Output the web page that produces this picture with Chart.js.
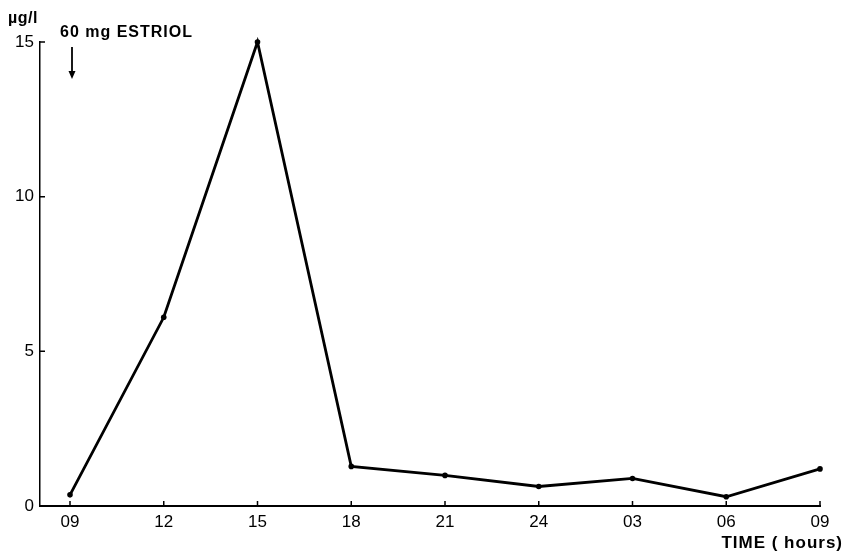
<!DOCTYPE html>
<html>
<head>
<meta charset="utf-8">
<script src="https://cdn.jsdelivr.net/npm/chart.js@4.4.1/dist/chart.umd.min.js"></script>
<style>
  html, body { margin: 0; padding: 0; background: #fff; }
  #wrap { width: 844px; height: 554px; position: relative; }
</style>
</head>
<body>
<div id="wrap"><canvas id="c" width="844" height="554"></canvas></div>
<script>
// Clock times of the samples (every 3 hours, next morning wraps to 03/06/09)
const timeLabels = ['09', '12', '15', '18', '21', '24', '03', '06', '09'];
// Plasma estriol concentration, µg/l
const estriol = [0.36, 6.1, 15.0, 1.28, 0.99, 0.63, 0.89, 0.30, 1.20];
const yTicks = [0, 5, 10, 15];

const points = estriol.map((v, i) => ({ x: i, y: v }));
const FONT = '"Liberation Sans", Arial, Helvetica, sans-serif';

// Inward tick marks, axis captions and the dose arrow
const decor = {
  id: 'decor',
  afterDraw(chart) {
    const ctx = chart.ctx;
    const xs = chart.scales.x, ys = chart.scales.y;
    const x0 = xs.left, y0 = ys.bottom;
    ctx.save();
    ctx.strokeStyle = '#000';
    ctx.lineWidth = 1.5;
    ctx.beginPath();
    timeLabels.forEach((_, i) => {
      const px = xs.getPixelForValue(i);
      ctx.moveTo(px, y0); ctx.lineTo(px, y0 - 5);
    });
    yTicks.forEach(v => {
      const py = ys.getPixelForValue(v);
      ctx.moveTo(x0, py); ctx.lineTo(x0 + 5, py);
    });
    ctx.stroke();

    ctx.fillStyle = '#000';
    ctx.textBaseline = 'alphabetic';
    ctx.textAlign = 'left';
    ctx.font = 'bold 16px ' + FONT;
    ctx.letterSpacing = '0.5px';
    ctx.fillText('µg/l', 8, 23);
    ctx.font = 'bold 16px ' + FONT;
    ctx.letterSpacing = '1px';
    ctx.fillText('60 mg ESTRIOL', 60, 37);
    ctx.font = 'bold 17px ' + FONT;
    ctx.letterSpacing = '1px';
    ctx.textAlign = 'right';
    ctx.fillText('TIME ( hours)', 843, 548);
    ctx.letterSpacing = '0px';

    // dose given at the first sample time
    const ax = xs.getPixelForValue(0) + 2;
    ctx.lineWidth = 1.8;
    ctx.beginPath();
    ctx.moveTo(ax, 47); ctx.lineTo(ax, 76);
    ctx.stroke();
    ctx.beginPath();
    ctx.moveTo(ax - 3.5, 71); ctx.lineTo(ax, 79); ctx.lineTo(ax + 3.5, 71);
    ctx.closePath();
    ctx.fill();
    ctx.restore();
  }
};

new Chart(document.getElementById('c'), {
  type: 'line',
  data: {
    datasets: [{
      data: points,
      borderColor: '#000',
      backgroundColor: '#000',
      borderWidth: 2.8,
      pointRadius: 2.8,
      pointBorderWidth: 0,
      pointBackgroundColor: '#000',
      tension: 0,
      clip: false
    }]
  },
  options: {
    responsive: false,
    animation: false,
    events: [],
    layout: { padding: { top: 42, right: 24, left: 0, bottom: 0 } },
    plugins: { legend: { display: false }, tooltip: { enabled: false } },
    scales: {
      x: {
        type: 'linear',
        min: -0.32,
        max: 8,
        afterFit(s) { s.height = 48; },
        afterBuildTicks(s) { s.ticks = timeLabels.map((_, i) => ({ value: i })); },
        grid: { display: false, drawTicks: false },
        border: { display: true, color: '#000', width: 2 },
        ticks: {
          color: '#000',
          padding: 6,
          font: { family: FONT, size: 17 },
          callback: (v) => timeLabels[v]
        }
      },
      y: {
        min: 0,
        max: 15,
        afterFit(s) { s.width = 40; },
        afterBuildTicks(s) { s.ticks = yTicks.map(v => ({ value: v })); },
        grid: { display: false, drawTicks: false },
        border: { display: true, color: '#000', width: 1.5 },
        ticks: {
          color: '#000',
          padding: 6,
          font: { family: FONT, size: 17 }
        }
      }
    }
  },
  plugins: [decor]
});
</script>
</body>
</html>
